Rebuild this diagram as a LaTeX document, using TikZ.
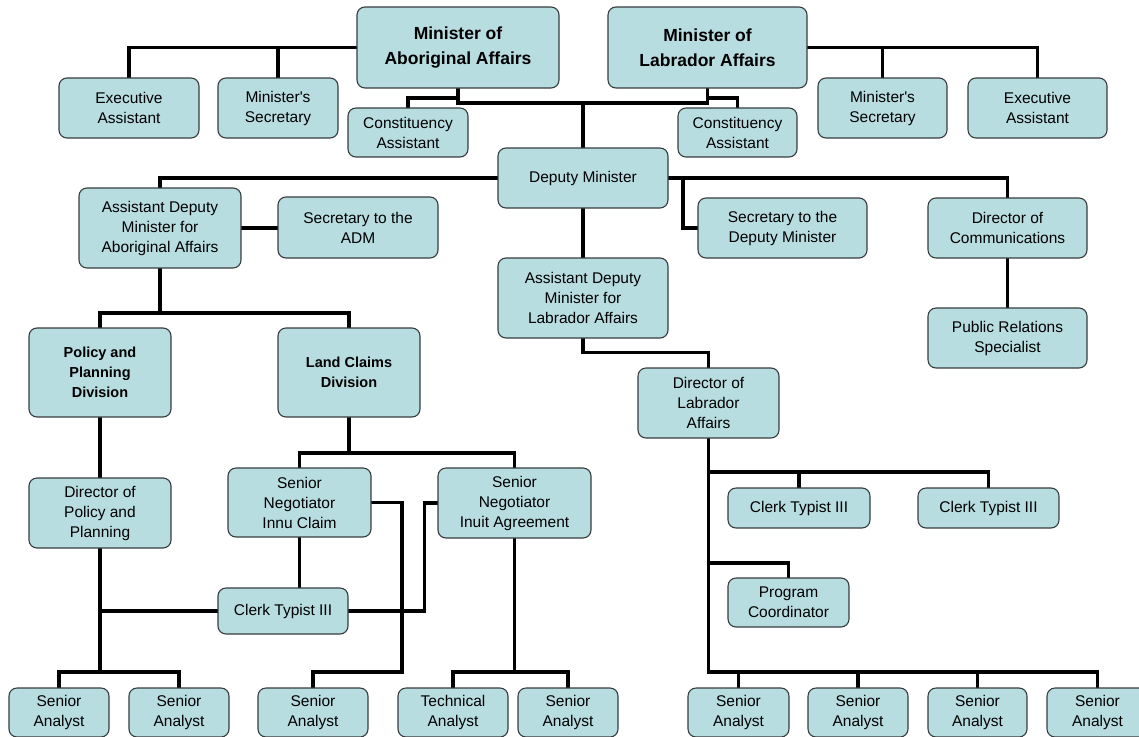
\documentclass[tikz,border=0pt]{standalone}
\usepackage{fontspec}
\setmainfont{Liberation Sans}[Ligatures=TeXOff]
\usetikzlibrary{backgrounds}
\definecolor{boxfill}{RGB}{184,221,225}
\definecolor{boxline}{RGB}{55,60,62}
\tikzset{
  box/.style={draw=boxline, line width=1.1pt, fill=boxfill, rounded corners=8pt,
    align=center, inner sep=0pt, font=\fontsize{15.5}{20}\selectfont},
  bigbold/.style={font=\fontsize{17.5}{25}\selectfont\bfseries},
  divbold/.style={font=\fontsize{14.5}{20}\selectfont\bfseries},
  conn/.style={line width=3.6pt, black, line cap=rect},
}
\newcommand\bx[7][]{\node[box,#1, minimum width={(#5)-(#3)}, minimum height={(#6)-(#4)}] (#2) at ({((#3)+(#5))/2},{((#4)+(#6))/2}) {#7};}
\begin{document}
\begin{tikzpicture}[x=1pt,y=-1pt]
\useasboundingbox (0,0) rectangle (1139,736);
\clip (0,0) rectangle (1139,736);
% boxes
\bx[bigbold]{MAA}{357}{7}{559}{88}{Minister of\\Aboriginal Affairs}
\bx[bigbold]{MLA}{608}{7}{807}{88}{Minister of\\Labrador Affairs}
\bx{EA1}{59}{78}{199}{138}{Executive\\Assistant}
\bx{MS1}{218}{78}{338}{138}{Minister's\\Secretary}
\bx{MS2}{818}{78}{947}{138}{Minister's\\Secretary}
\bx{EA2}{968}{78}{1107}{138}{Executive\\Assistant}
\bx{CA1}{348}{108}{468}{157}{Constituency\\Assistant}
\bx{CA2}{678}{108}{797}{157}{Constituency\\Assistant}
\bx{DM}{498}{148}{668}{208}{Deputy Minister}
\bx{ADMA}{79}{188}{241}{268}{Assistant Deputy\\Minister for\\Aboriginal Affairs}
\bx{STA}{278}{197}{438}{258}{Secretary to the\\ADM}
\bx{STDM}{698}{198}{867}{258}{Secretary to the\\Deputy Minister}
\bx{DOC}{928}{198}{1087}{258}{Director of\\Communications}
\bx{ADML}{498}{258}{668}{338}{Assistant Deputy\\Minister for\\Labrador Affairs}
\bx{PRS}{928}{308}{1087}{368}{Public Relations\\Specialist}
\bx[divbold]{PPD}{29}{328}{171}{417}{Policy and\\Planning\\Division}
\bx[divbold]{LCD}{278}{328}{420}{417}{Land Claims\\Division}
\bx{DLA}{638}{368}{779}{438}{Director of\\Labrador\\Affairs}
\bx{DPP}{29}{478}{171}{548}{Director of\\Policy and\\Planning}
\bx{SNI}{228}{468}{371}{537}{Senior\\Negotiator\\Innu Claim}
\bx{SNU}{438}{468}{591}{538}{Senior\\Negotiator\\Inuit Agreement}
\bx{CT1}{218}{588}{348}{634}{Clerk Typist III}
\bx{CT2}{728}{488}{870}{528}{Clerk Typist III}
\bx{CT3}{918}{488}{1059}{528}{Clerk Typist III}
\bx{PC}{728}{578}{849}{627}{Program\\Coordinator}
\bx{SA1}{9}{688}{109}{737}{Senior\\Analyst}
\bx{SA2}{129}{688}{229}{737}{Senior\\Analyst}
\bx{SA3}{258}{688}{368}{737}{Senior\\Analyst}
\bx{TA}{398}{688}{508}{737}{Technical\\Analyst}
\bx{SA4}{518}{688}{618}{737}{Senior\\Analyst}
\bx{SA5}{688}{688}{789}{737}{Senior\\Analyst}
\bx{SA6}{808}{688}{908}{737}{Senior\\Analyst}
\bx{SA7}{928}{688}{1027}{737}{Senior\\Analyst}
\bx{SA8}{1047}{688}{1148}{737}{Senior\\Analyst}
% connectors
\begin{pgfonlayer}{background}
\coordinate (jA) at (458,98);
\coordinate (jT) at (583,103);
\coordinate (jB) at (707.5,98);
\coordinate (jC) at (683,178);
\coordinate (jD) at (160,313);
\coordinate (jE) at (100,672);
\coordinate (jF) at (349,453);
\coordinate (jG) at (402,672);
\coordinate (jH) at (514.5,672);
\coordinate (jI) at (708.5,672);
\coordinate (jJ) at (708.5,472);
\coordinate (jK) at (708.5,563);
\draw[conn] (MAA.west) -| (EA1.north);
\draw[conn] (MS1.north) -- (MS1.north |- MAA.west);
\draw[conn] (MLA.east) -| (EA2.north);
\draw[conn] (MS2.north) -- (MS2.north |- MLA.east);
\draw[conn] (MAA.south) |- (jT) -| (MLA.south);
\draw[conn] (jA) -| (CA1.north);
\draw[conn] (jB) -| (CA2.north);
\draw[conn] (jT) -- (DM.north);
\draw[conn] (DM.west) -| (ADMA.north);
\draw[conn] (DM.east) -| (DOC.north);
\draw[conn] (jC) |- (STDM.west);
\draw[conn] (ADMA.east) -- (ADMA.east -| STA.west);
\draw[conn] (DM.south) -- (ADML.north);
\draw[conn] (ADML.south) -- ++(0,14) -| (DLA.north);
\draw[conn] (DOC.south) -- (PRS.north);
\draw[conn] (ADMA.south) -- (jD);
\draw[conn] (PPD.north) |- (jD) -| (LCD.north);
\draw[conn] (PPD.south) -- (DPP.north);
\draw[conn] (DPP.south) -- (jE);
\draw[conn] (SA1.north) |- (jE) -| (SA2.north);
\draw[conn] (CT1.west) -- (CT1.west -| jE);
\draw[conn] (LCD.south) -- (jF);
\draw[conn] (SNI.north) |- (jF) -| (SNU.north);
\draw[conn] (SNI.south) -- (SNI.south |- CT1.north);
\draw[conn] (SNI.east) -| (jG) -| (SA3.north);
\draw[conn] (CT1.east) -- ++(76,0) |- (SNU.west);
\draw[conn] (SNU.south) -- (jH);
\draw[conn] (TA.north) |- (jH) -| (SA4.north);
\draw[conn] (DLA.south) -- (jI) -| (SA8.north);
\foreach \n in {SA5,SA6,SA7} \draw[conn] (\n.north) -- (\n.north |- jI);
\draw[conn] (jJ) -| (CT3.north);
\draw[conn] (CT2.north) -- (CT2.north |- jJ);
\draw[conn] (jK) -| (PC.north);
\end{pgfonlayer}
\end{tikzpicture}
\end{document}
